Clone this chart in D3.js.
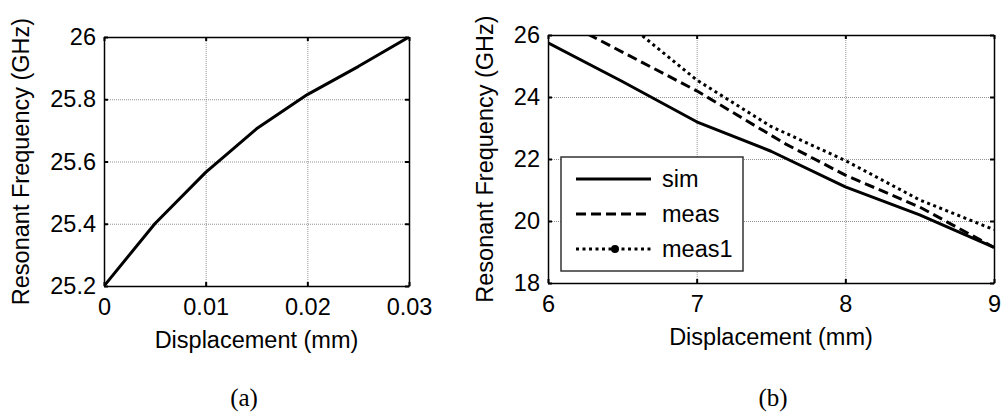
<!DOCTYPE html>
<html>
<head>
<meta charset="utf-8">
<script src="https://cdn.jsdelivr.net/npm/d3@7"></script>
<style>
  body { margin: 0; background: #fff; }
  svg { display: block; }
  .lbl { font-family: "Liberation Sans", Arial, sans-serif; font-size: 23.5px; fill: #000; }
  .cap { font-family: "Liberation Serif", "Times New Roman", serif; font-size: 25px; fill: #000; }
</style>
</head>
<body>
<div id="chart-area"></div>
<script>
// panel (a)
var dispA = [0, 0.005, 0.01, 0.015, 0.02, 0.025, 0.03];
var freqA = [25.2, 25.4, 25.565, 25.705, 25.815, 25.905, 26.0];
var xTicksA = [0, 0.01, 0.02, 0.03];
var yTicksA = [25.2, 25.4, 25.6, 25.8, 26];

// panel (b)
var dispSim = [6, 6.5, 7, 7.5, 8, 8.5, 9];
var freqSim = [25.75, 24.5, 23.2, 22.25, 21.1, 20.2, 19.15];
var dispMeas = [6, 7, 7.6, 8, 8.5, 9];
var freqMeas = [26.7, 24.2, 22.48, 21.48, 20.45, 19.15];
var dispMeas1 = [6.5, 7, 7.5, 8, 8.5, 9];
var freqMeas1 = [26.5, 24.55, 23.05, 21.95, 20.68, 19.72];
var xTicksB = [6, 7, 8, 9];
var yTicksB = [18, 20, 22, 24, 26];
var legendNames = ["sim", "meas", "meas1"];

var svg = d3.select('#chart-area')
  .append('svg')
    .attr('width', 1005)
    .attr('height', 412);

function panel(opt) {
  var w = opt.right - opt.left, h = opt.bottom - opt.top;
  var g = svg.append("g").attr("transform", "translate(" + opt.left + "," + opt.top + ")");
  var x = d3.scaleLinear().domain(opt.xDomain).range([0, w]);
  var y = d3.scaleLinear().domain(opt.yDomain).range([h, 0]);

  // grid
  g.append("g")
    .attr("transform", "translate(0," + h + ")")
    .call(d3.axisBottom(x).tickValues(opt.xTicks).tickSize(-h).tickFormat(""))
    .call(s => s.select(".domain").remove())
    .selectAll("line").attr("stroke", "#777").attr("stroke-width", 0.8).attr("stroke-dasharray", "1,1");
  g.append("g")
    .call(d3.axisLeft(y).tickValues(opt.yTicks).tickSize(-w).tickFormat(""))
    .call(s => s.select(".domain").remove())
    .selectAll("line").attr("stroke", "#777").attr("stroke-width", 0.8).attr("stroke-dasharray", "1,1");

  // axes with inner ticks
  var ax = [
    [d3.axisBottom(x).tickValues(opt.xTicks).tickSizeInner(-4).tickSizeOuter(0).tickPadding(12).tickFormat(opt.xFmt), "translate(0," + h + ")"],
    [d3.axisTop(x).tickValues(opt.xTicks).tickSizeInner(-4).tickSizeOuter(0).tickFormat(""), null],
    [d3.axisLeft(y).tickValues(opt.yTicks).tickSizeInner(-4).tickSizeOuter(0).tickPadding(8).tickFormat(opt.yFmt), null],
    [d3.axisRight(y).tickValues(opt.yTicks).tickSizeInner(-4).tickSizeOuter(0).tickFormat(""), "translate(" + w + ",0)"]
  ];
  ax.forEach(function (a) {
    var ag = g.append("g").call(a[0]);
    if (a[1]) ag.attr("transform", a[1]);
    ag.select(".domain").attr("stroke", "#000").attr("stroke-width", 1.5);
    ag.selectAll(".tick line").attr("stroke", "#000").attr("stroke-width", 2);
    ag.selectAll("text").attr("class", "lbl");
    ag.attr("font-size", null).attr("font-family", null);
  });

  var clipId = "clip" + opt.id;
  g.append("clipPath").attr("id", clipId)
    .append("rect").attr("width", w).attr("height", h);

  var line = d3.line().x(d => x(d[0])).y(d => y(d[1]));
  opt.series.forEach(function (s) {
    g.append("path")
      .datum(d3.zip(s.x, s.y))
      .attr("clip-path", "url(#" + clipId + ")")
      .attr("fill", "none")
      .attr("stroke", "#000")
      .attr("stroke-width", 3)
      .attr("stroke-linejoin", "round")
      .attr("stroke-dasharray", s.dash)
      .attr("d", line);
  });

  g.append("text").attr("class", "lbl")
    .attr("x", w / 2).attr("y", h + 62)
    .attr("text-anchor", "middle")
    .text("Displacement (mm)");
  g.append("text").attr("class", "lbl")
    .attr("transform", "rotate(-90)")
    .attr("x", -h / 2).attr("y", opt.yLabelX)
    .attr("text-anchor", "middle")
    .text("Resonant Frequency (GHz)");
  svg.append("text").attr("class", "cap")
    .attr("x", opt.capX).attr("y", 406)
    .attr("text-anchor", "middle")
    .text(opt.cap);
  return g;
}

panel({
  id: "a", left: 104, right: 409, top: 37, bottom: 286,
  xDomain: [0, 0.03], yDomain: [25.2, 26],
  xTicks: xTicksA, yTicks: yTicksA,
  xFmt: d => d === 0 ? "0" : d3.format(".2f")(d),
  yFmt: d => d === 26 ? "26" : d3.format(".1f")(d),
  yLabelX: -75,
  series: [{ x: dispA, y: freqA, dash: null }],
  cap: "(a)", capX: 244
});

var gb = panel({
  id: "b", left: 548, right: 994, top: 35, bottom: 283,
  xDomain: [6, 9], yDomain: [18, 26],
  xTicks: xTicksB, yTicks: yTicksB,
  xFmt: d3.format("d"), yFmt: d3.format("d"),
  yLabelX: -55,
  series: [
    { x: dispSim, y: freqSim, dash: null },
    { x: dispMeas, y: freqMeas, dash: "10,5" },
    { x: dispMeas1, y: freqMeas1, dash: "3,3.5" }
  ],
  cap: "(b)", capX: 773
});

// legend
var lg = gb.append("g").attr("transform", "translate(13,122)");
lg.append("rect")
  .attr("width", 182).attr("height", 114)
  .attr("fill", "#fff").attr("stroke", "#333").attr("stroke-width", 1.5);
var dashes = [null, "10,5", "3,3.5"];
legendNames.forEach(function (n, i) {
  var yy = 22 + i * 35;
  lg.append("line")
    .attr("x1", 15).attr("x2", 90).attr("y1", yy).attr("y2", yy)
    .attr("stroke", "#000").attr("stroke-width", 3)
    .attr("stroke-dasharray", dashes[i]);
  if (i === 2) lg.append("circle").attr("cx", 54).attr("cy", yy).attr("r", 4).attr("fill", "#000");
  lg.append("text").attr("class", "lbl")
    .attr("x", 101).attr("y", yy)
    .attr("dominant-baseline", "central")
    .text(n);
});
</script>
</body>
</html>
